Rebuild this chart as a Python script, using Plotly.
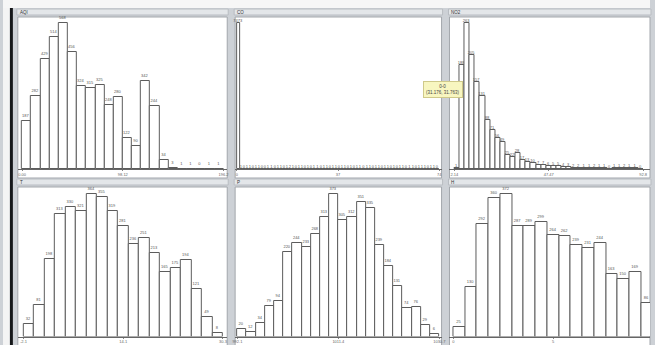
import plotly.graph_objects as go

# ---------------- data ----------------
titles = ["AQI", "CO", "NO2", "T", "P", "H"]

aqi_counts = [187, 282, 429, 514, 568, 456, 324, 315, 325, 248, 280, 122, 90, 342, 244, 34, 3, 1, 1, 0, 1, 1]
co_counts = [7473, 1, 0, 1, 1, 0, 1, 1, 0, 0, 1, 1, 0, 1, 1, 0, 1, 2, 1, 0, 1, 1, 0, 1, 0, 1, 1, 0, 1, 1,
             0, 1, 1, 0, 1, 1, 0, 1, 0, 1, 1, 0, 1, 1, 0, 1, 1, 0, 1, 1, 0, 1, 0, 1, 1, 0, 1, 1, 0, 1,
             1, 1, 0, 1, 1, 0]
no2_counts = [1, 188, 263, 205, 157, 131, 88, 71, 56, 49, 25, 22, 28, 17, 13, 10, 7, 7, 6, 5, 5, 4, 3, 2,
              2, 1, 1, 2, 1, 1, 0, 1, 1, 2, 1, 1, 0]
t_counts = [32, 81, 198, 313, 330, 321, 364, 355, 319, 281, 236, 251, 213, 165, 175, 194, 121, 49, 8]
p_counts = [20, 12, 34, 79, 94, 220, 244, 233, 268, 313, 373, 305, 312, 351, 335, 239, 184, 131, 74, 76, 29, 6]
h_counts = [25, 130, 292, 360, 372, 287, 289, 299, 264, 262, 239, 231, 244, 163, 150, 169, 86]

x_min = [0.0, 0.0, 2.14, -2.1, 992.1, 0.0]
x_max = [196.24, 74.0, 92.8, 30.3, 1030.7, 10.0]
tick_labels = [["0.00", "98.12", "196.2"], ["0", "37", "74"], ["2.14", "47.47", "92.8"],
               ["-2.1", "14.1", "30.3"], ["992.1", "1011.4", "1030.7"], ["0", "5"]]

tooltip_lines = ["0-0", "(31.176, 31.763)"]

counts_all = [aqi_counts, co_counts, no2_counts, t_counts, p_counts, h_counts]

# ---------------- layout geometry (pixels) ----------------
W, H = 655, 345
def fx(p): return p / W
def fy(p): return 1 - p / H

geom = [
    dict(dl=15, dr=227, base=169, top=17, bl=19.3, br=223.3),
    dict(dl=235, dr=444, base=169, top=17, bl=236.7, br=441.7),
    dict(dl=452, dr=655, base=169, top=17, bl=457.0, br=648.0),
    dict(dl=15, dr=227, base=336.5, top=188, bl=20.7, br=222.7),
    dict(dl=235, dr=444, base=336.5, top=188, bl=237.3, br=441.7),
    dict(dl=452, dr=655, base=336.5, top=188, bl=456.0, br=658.0),
]

LABEL_FONT = dict(size=4, color="#555555", family="Liberation Sans")

fig = go.Figure()
shapes = []
annotations = []

shapes.append(dict(type="rect", xref="paper", yref="paper", x0=0, x1=1, y0=fy(8), y1=1,
                   fillcolor="#f6f6f6", line_width=0, layer="below"))
shapes.append(dict(type="rect", xref="paper", yref="paper", x0=0, x1=fx(7), y0=0, y1=fy(8),
                   fillcolor="#f4f4f4", line_width=0, layer="below"))
shapes.append(dict(type="rect", xref="paper", yref="paper", x0=fx(7), x1=fx(10), y0=0, y1=fy(8),
                   fillcolor="#15171a", line_width=0, layer="below"))

panel_boxes = [(14, 228, 9, 178), (234, 445, 9, 178), (451, 656, 9, 178),
               (14, 228, 179, 346), (234, 445, 179, 346), (451, 656, 179, 346)]
for i, (l, r, t, b) in enumerate(panel_boxes):
    shapes.append(dict(type="rect", xref="paper", yref="paper", x0=fx(l), x1=fx(r), y0=fy(t + 6), y1=fy(t),
                       fillcolor="#e3e6e9", line=dict(color="#b9bdc2", width=1), layer="below"))
    shapes.append(dict(type="rect", xref="paper", yref="paper", x0=fx(l + 1), x1=fx(r - 1),
                       y0=fy(b), y1=fy(t + 8),
                       fillcolor="#ffffff", line=dict(color="#a3a7ac", width=1), layer="below"))
    annotations.append(dict(xref="paper", yref="paper", x=fx(l + 1), y=fy(t + 3), text=titles[i],
                            showarrow=False, xanchor="left", yanchor="middle",
                            font=dict(size=4.5, color="#333333", family="Liberation Sans")))

for i, counts in enumerate(counts_all):
    g = geom[i]
    n = len(counts)
    w = (x_max[i] - x_min[i]) / n
    centers = [x_min[i] + (k + 0.5) * w for k in range(n)]
    u = (x_max[i] - x_min[i]) / (g["br"] - g["bl"])
    xr = [x_min[i] - (g["bl"] - g["dl"]) * u, x_max[i] + (g["dr"] - g["br"]) * u]
    half = (x_max[i] - x_min[i]) / 2
    tickvals = [x_min[i] + k * half for k in range(len(tick_labels[i]))]
    ax = "" if i == 0 else str(i + 1)
    fig.add_trace(go.Bar(
        x=centers, y=counts, width=w, xaxis="x" + ax, yaxis="y" + ax,
        marker=dict(color="#ffffff", line=dict(color="#5c5c5c", width=1)),
        text=[str(c) for c in counts], textposition="outside", constraintext="none",
        cliponaxis=False, textfont=LABEL_FONT, outsidetextfont=LABEL_FONT, insidetextfont=LABEL_FONT,
        showlegend=False, hoverinfo="x+y"))
    fig.layout["xaxis" + ax] = dict(
        domain=[fx(g["dl"]), fx(g["dr"])], anchor="y" + ax, range=xr,
        showline=True, linecolor="#666666", linewidth=1, showgrid=False, zeroline=False,
        ticks="outside", ticklen=1, tickcolor="#888888",
        tickvals=tickvals, ticktext=tick_labels[i],
        tickfont=dict(size=4, color="#666666", family="Liberation Sans"), fixedrange=True)
    fig.layout["yaxis" + ax] = dict(
        domain=[fy(g["base"]), fy(g["top"])], anchor="x" + ax, range=[0, max(counts) * 1.04],
        showticklabels=False, showgrid=False, zeroline=False, showline=False, fixedrange=True)

annotations.append(dict(xref="paper", yref="paper", x=fx(445), y=fy(89), text="<br>".join(tooltip_lines),
                        showarrow=False, xanchor="center", yanchor="middle", align="center",
                        bgcolor="#f8f6c0", bordercolor="#cfc98a", borderwidth=1, borderpad=2,
                        font=dict(size=4.5, color="#444444", family="Liberation Sans")))

fig.update_layout(width=W, height=H, margin=dict(l=0, r=0, t=0, b=0),
                  paper_bgcolor="#cdd1d6", plot_bgcolor="rgba(0,0,0,0)",
                  bargap=0, shapes=shapes, annotations=annotations, showlegend=False)

fig.write_html("out.html", config={"displayModeBar": False},
               post_script="document.body.style.margin='0';document.body.style.overflow='hidden';")
